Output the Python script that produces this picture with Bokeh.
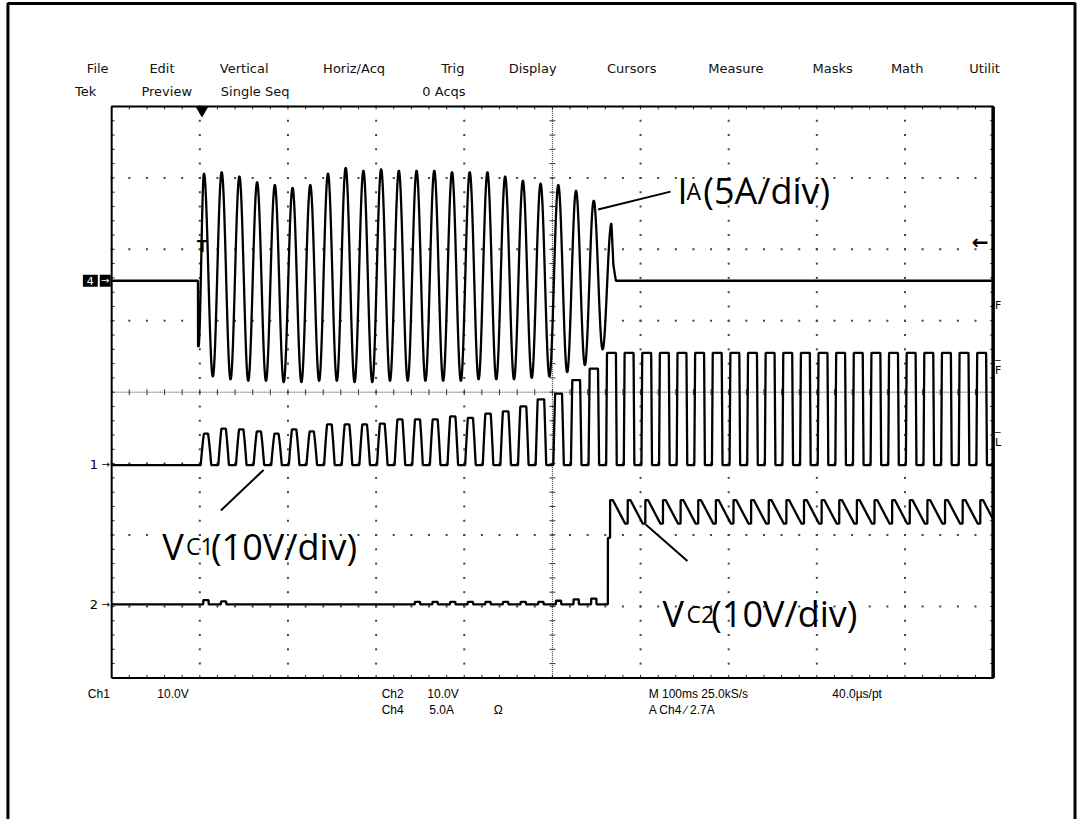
import numpy as np
from bokeh.plotting import figure
from bokeh.models import Range1d
from bokeh.core.properties import value
from bokeh.embed import file_html
from bokeh.resources import INLINE

# ---------------- values ----------------
# time base 100 ms/div over 10 divisions, 8 vertical divisions
ms_per_div = 100.0
n_xdiv = 10
n_ydiv = 8

ch4_A_per_div = 5.0
ch1_V_per_div = 10.0
ch2_V_per_div = 10.0
ch4_ground_div = 1.56
ch1_ground_div = -1.02
ch2_ground_div = -2.97

# Ch4 : IA (phase current)
ia_on_ms = 98.0
ia_dip_A = -4.6
ia_first_peak_ms = 104.7
ia_period_ms = 20.1
ia_peak_A = [7.5, 7.6, 7.3, 6.9, 6.7, 6.5, 6.7, 7.5, 7.9, 7.7, 7.8, 7.7,
             7.7, 7.7, 7.6, 7.6, 7.6, 7.3, 7.0, 6.8, 6.7, 6.3, 5.6, 4.0]
ia_trough_A = [-6.7, -6.9, -7.0, -7.0, -7.1, -7.1, -7.0, -7.0, -7.1, -7.1, -7.0, -7.0,
               -7.0, -7.0, -7.0, -6.9, -6.9, -6.9, -6.8, -6.7, -6.4, -5.9, -4.8]
ia_tail_A = 1.1
ia_off_ms = 572.0

# Ch1 : VC1 pulses (one per 20 ms)
vc1_first_pulse_ms = 107.0
vc1_period_ms = 20.0
vc1_pulse_V = [4.4, 5.1, 5.0, 4.7, 4.4, 5.0, 4.7, 5.7, 5.7, 5.7, 5.8, 6.4,
               6.4, 6.4, 6.8, 6.6, 7.2, 7.5, 8.2, 9.2, 10.0, 11.9, 13.5,
               15.7, 15.7, 15.7, 15.7, 15.7, 15.7, 15.7, 15.7, 15.7, 15.7, 15.7,
               15.7, 15.7, 15.7, 15.7, 15.7, 15.7, 15.7, 15.7, 15.7, 15.7, 15.7, 15.7]

# Ch2 : VC2
vc2_bump_V = [0.6, 0.4, 0.0, 0.0, 0.0, 0.0, 0.0, 0.0, 0.0, 0.0, 0.0, 0.0,
              0.35, 0.35, 0.35, 0.35, 0.35, 0.35, 0.35, 0.35, 0.5, 0.7, 0.8]
vc2_jump_ms = 563.0
vc2_step_V = 9.3
vc2_first_rise_ms = 565.5
vc2_tooth_top_V = [14.6] * 22
vc2_tooth_bottom_V = [11.3] * 22

# ---------------- geometry (graticule in reference pixels) ----------------
GX0, GX1, GY0, GY1 = 112.0, 1000.0, 107.0, 684.0
REF_W, REF_H = 1085, 827
W, H = 1077, 819


def dx(px):
    return (px - GX0) * (n_xdiv * ms_per_div) / (GX1 - GX0)


def dy(py):
    return n_ydiv / 2 - (py - GY0) * n_ydiv / (GY1 - GY0)


p = figure(width=W, height=H, output_backend="svg", toolbar_location=None,
           x_range=Range1d(dx(0), dx(REF_W)), y_range=Range1d(dy(REF_H), dy(0)),
           x_axis_location=None, y_axis_location=None, min_border=0)
p.grid.visible = False
p.outline_line_color = None
p.background_fill_color = "white"
p.border_fill_color = "white"

# ---- outer frame (left, top, right) ----
p.multi_line(xs=[[dx(7.5), dx(7.5), dx(1082.5), dx(1082.5)]],
             ys=[[dy(850), dy(3), dy(3), dy(850)]], line_color="black", line_width=3)

# ---- graticule ----
xmax = n_xdiv * ms_per_div
ymax = n_ydiv / 2
minor_x = np.arange(0, xmax + 0.1, ms_per_div / 5)
minor_y = np.round(np.arange(-ymax, ymax + 0.01, 0.2), 3)
dots_x, dots_y = [], []
for gx in np.arange(ms_per_div, xmax, ms_per_div):
    if abs(gx - xmax / 2) < 1:
        continue
    dots_x += [gx] * len(minor_y)
    dots_y += list(minor_y)
for gy in np.arange(-ymax + 1, ymax, 1.0):
    if abs(gy) < 0.01:
        continue
    dots_x += list(minor_x)
    dots_y += [gy] * len(minor_x)
p.scatter(dots_x, dots_y, marker="square", size=2, fill_color="#444", line_color=None)

tx = 3.0 * xmax / (GX1 - GX0)            # 3 px in x data units
ty = 3.0 * 2 * ymax / (GY1 - GY0)        # 3 px in y data units
# center cross, dotted with minor ticks
p.segment([xmax / 2], [-ymax], [xmax / 2], [ymax], line_color="#333", line_width=1, line_dash="1 1")
p.segment([0], [0], [xmax], [0], line_color="#333", line_width=1, line_dash="1 1")
p.segment([xmax / 2 - tx] * len(minor_y), list(minor_y), [xmax / 2 + tx] * len(minor_y), list(minor_y),
          line_color="#333", line_width=1)
p.segment(list(minor_x), [-ty] * len(minor_x), list(minor_x), [ty] * len(minor_x),
          line_color="#333", line_width=1)
# edge ticks
p.segment(list(minor_x), [ymax] * len(minor_x), list(minor_x), [ymax - ty] * len(minor_x), line_color="#222")
p.segment(list(minor_x), [-ymax] * len(minor_x), list(minor_x), [-ymax + ty] * len(minor_x), line_color="#222")
p.segment([0] * len(minor_y), list(minor_y), [tx] * len(minor_y), list(minor_y), line_color="#222")
p.segment([xmax] * len(minor_y), list(minor_y), [xmax - tx] * len(minor_y), list(minor_y), line_color="#222")
# frame
p.multi_line(xs=[[0, 0, xmax, xmax, 0]], ys=[[-ymax, ymax, ymax, -ymax, -ymax]],
             line_color="black", line_width=2)
p.segment([xmax], [-ymax], [xmax], [ymax], line_color="black", line_width=3.5)

# ---------------- waveforms ----------------
t = np.arange(0.0, xmax + 0.001, 0.1)


def half_cos(tt, t0, t1, v0, v1):
    f = (1 - np.cos(np.pi * (tt - t0) / (t1 - t0))) / 2
    return v0 + (v1 - v0) * f


# IA
ia = np.zeros_like(t)
peaks_t = [ia_first_peak_ms + k * ia_period_ms for k in range(len(ia_peak_A))]
m = (t >= ia_on_ms) & (t < ia_on_ms + 0.5)
ia[m] = ia_dip_A
m = (t >= ia_on_ms + 0.5) & (t < peaks_t[0])
ia[m] = half_cos(t[m], ia_on_ms + 0.5, peaks_t[0], ia_dip_A, ia_peak_A[0])
for k in range(len(ia_peak_A)):
    tp = peaks_t[k]
    if k < len(ia_trough_A):
        tt = tp + ia_period_ms / 2
        m = (t >= tp) & (t < tt)
        ia[m] = half_cos(t[m], tp, tt, ia_peak_A[k], ia_trough_A[k])
        m = (t >= tt) & (t < peaks_t[k + 1])
        ia[m] = half_cos(t[m], tt, peaks_t[k + 1], ia_trough_A[k], ia_peak_A[k + 1])
    else:
        m = (t >= tp) & (t < ia_off_ms)
        ia[m] = np.interp(t[m], [tp, tp + 2.2, ia_off_ms], [ia_peak_A[k], ia_tail_A, 0.0])
ia_div = ch4_ground_div + ia / ch4_A_per_div

# VC1
vc1 = np.zeros_like(t)
vmax = max(vc1_pulse_V)
for k, h in enumerate(vc1_pulse_V):
    c = vc1_first_pulse_ms + k * vc1_period_ms
    w = 6.0
    m = (t >= c - w) & (t < c + w)
    sharp = 1.15 + 3.0 * (h / vmax) ** 3
    vc1[m] = h * np.minimum(1.0, sharp * np.sin(np.pi * (t[m] - (c - w)) / (2 * w)))
vc1_div = ch1_ground_div + vc1 / ch1_V_per_div

# VC2
vc2 = np.zeros_like(t)
for k, b in enumerate(vc2_bump_V):
    c = vc1_first_pulse_ms + k * vc1_period_ms
    m = (t >= c - 3) & (t < c + 3)
    vc2[m] = b
m = (t >= vc2_jump_ms) & (t < vc2_first_rise_ms)
vc2[m] = vc2_step_V
for j, (top, bot) in enumerate(zip(vc2_tooth_top_V, vc2_tooth_bottom_V)):
    tr = vc2_first_rise_ms + j * vc1_period_ms
    m = (t >= tr) & (t < tr + 3)
    vc2[m] = top
    m = (t >= tr + 3) & (t < tr + vc1_period_ms)
    vc2[m] = np.interp(t[m], [tr + 3, tr + 17, tr + vc1_period_ms], [top, bot, bot])
vc2_div = ch2_ground_div + vc2 / ch2_V_per_div

for yy in (ia_div, vc1_div, vc2_div):
    p.line(t, yy, line_color="black", line_width=2.3)

# ---------------- annotations ----------------
BIG = "36px"
SMALL = "23px"
FONT = value("Open Sans")


def txt(px, py, s, size="13px", font="DejaVu Sans", color="black", align="left",
        baseline="middle", style="normal"):
    p.text([dx(px)], [dy(py)], text=[s], text_font=value(font), text_font_size=size,
           text_color=color, text_align=align, text_baseline=baseline, text_font_style=style)


# menu bar
for px, s in [(87, "File"), (150, "Edit"), (221, "Vertical"), (325, "Horiz/Acq"), (444, "Trig"),
              (512, "Display"), (611, "Cursors"), (713, "Measure"), (818, "Masks"), (897, "Math"),
              (976, "Utilit")]:
    txt(px, 69, s, size="13px", color="#111")
for px, s in [(75, "Tek"), (142, "Preview"), (222, "Single Seq"), (425, "0 Acqs")]:
    txt(px, 92, s, size="13px", color="#111")

# bottom status
for px, py, s in [(88, 700, "Ch1"), (158, 700, "10.0V"), (384, 700, "Ch2"), (430, 700, "10.0V"),
                  (384, 716, "Ch4"), (432, 716, "5.0A"), (497, 716, "\u03a9"),
                  (653, 700, "M 100ms 25.0kS/s"), (838, 700, "40.0\u00b5s/pt"),
                  (653, 716, "A  Ch4  \u2215  2.7A")]:
    txt(px, py, s, size="12px", font="Liberation Sans")

# channel ground markers
p.rect([dx(90.5)], [dy(283)], width=15 * 1000 / 888, height=12 * 8 / 577, fill_color="black", line_color=None)
p.rect([dx(105.5)], [dy(283)], width=11 * 1000 / 888, height=12 * 8 / 577, fill_color="black", line_color=None)
txt(90.5, 283.5, "4", size="11px", color="white", align="center")
txt(105.5, 283, "\u2192", size="10px", color="white", align="center")
txt(94, 469, "1", size="13px", align="center")
txt(106, 469, "\u2192", size="10px", align="center")
txt(94, 610, "2", size="13px", align="center")
txt(106, 610, "\u2192", size="10px", align="center")

# trigger markers
p.scatter([dx(203)], [dy(111)], marker="inverted_triangle", size=11, fill_color="black", line_color="black")
txt(203, 249, "T", size="15px", align="center", style="bold")
txt(987, 244, "\u2190", size="20px", align="center", style="bold")
txt(1002, 308, "F", size="11px")
txt(1002, 374, "F", size="11px")
txt(1002, 364, "_", size="11px", baseline="bottom")
txt(1002, 446, "L", size="11px")
txt(1002, 437, "_", size="11px", baseline="bottom")

# waveform labels
p.text([dx(682)], [dy(192)], text=["I"], text_font=FONT, text_font_size=BIG, text_baseline="alphabetic")
p.text([dx(691)], [dy(192)], text=["A"], text_font=FONT, text_font_size=SMALL, text_baseline="alphabetic")
p.text([dx(708)], [dy(192)], text=["(5A/div)"], text_font=FONT, text_font_size=BIG, text_baseline="alphabetic")

p.text([dx(163)], [dy(551)], text=["V"], text_font=FONT, text_font_size=BIG, text_baseline="alphabetic")
p.text([dx(187)], [dy(551)], text=["C1"], text_font=FONT, text_font_size=SMALL, text_baseline="alphabetic")
p.text([dx(212)], [dy(551)], text=["(10V/div)"], text_font=FONT, text_font_size=BIG, text_baseline="alphabetic")

p.text([dx(667)], [dy(619)], text=["V"], text_font=FONT, text_font_size=BIG, text_baseline="alphabetic")
p.text([dx(691)], [dy(619)], text=["C2"], text_font=FONT, text_font_size=SMALL, text_baseline="alphabetic")
p.text([dx(716)], [dy(619)], text=["(10V/div)"], text_font=FONT, text_font_size=BIG, text_baseline="alphabetic")

# pointer lines
p.segment([dx(602), dx(222), dx(650)], [dy(211), dy(515), dy(529)],
          [dx(675), dx(265), dx(692)], [dy(193), dy(474), dy(566)], line_color="black", line_width=2)

open("out.html", "w").write(file_html(p, INLINE))
